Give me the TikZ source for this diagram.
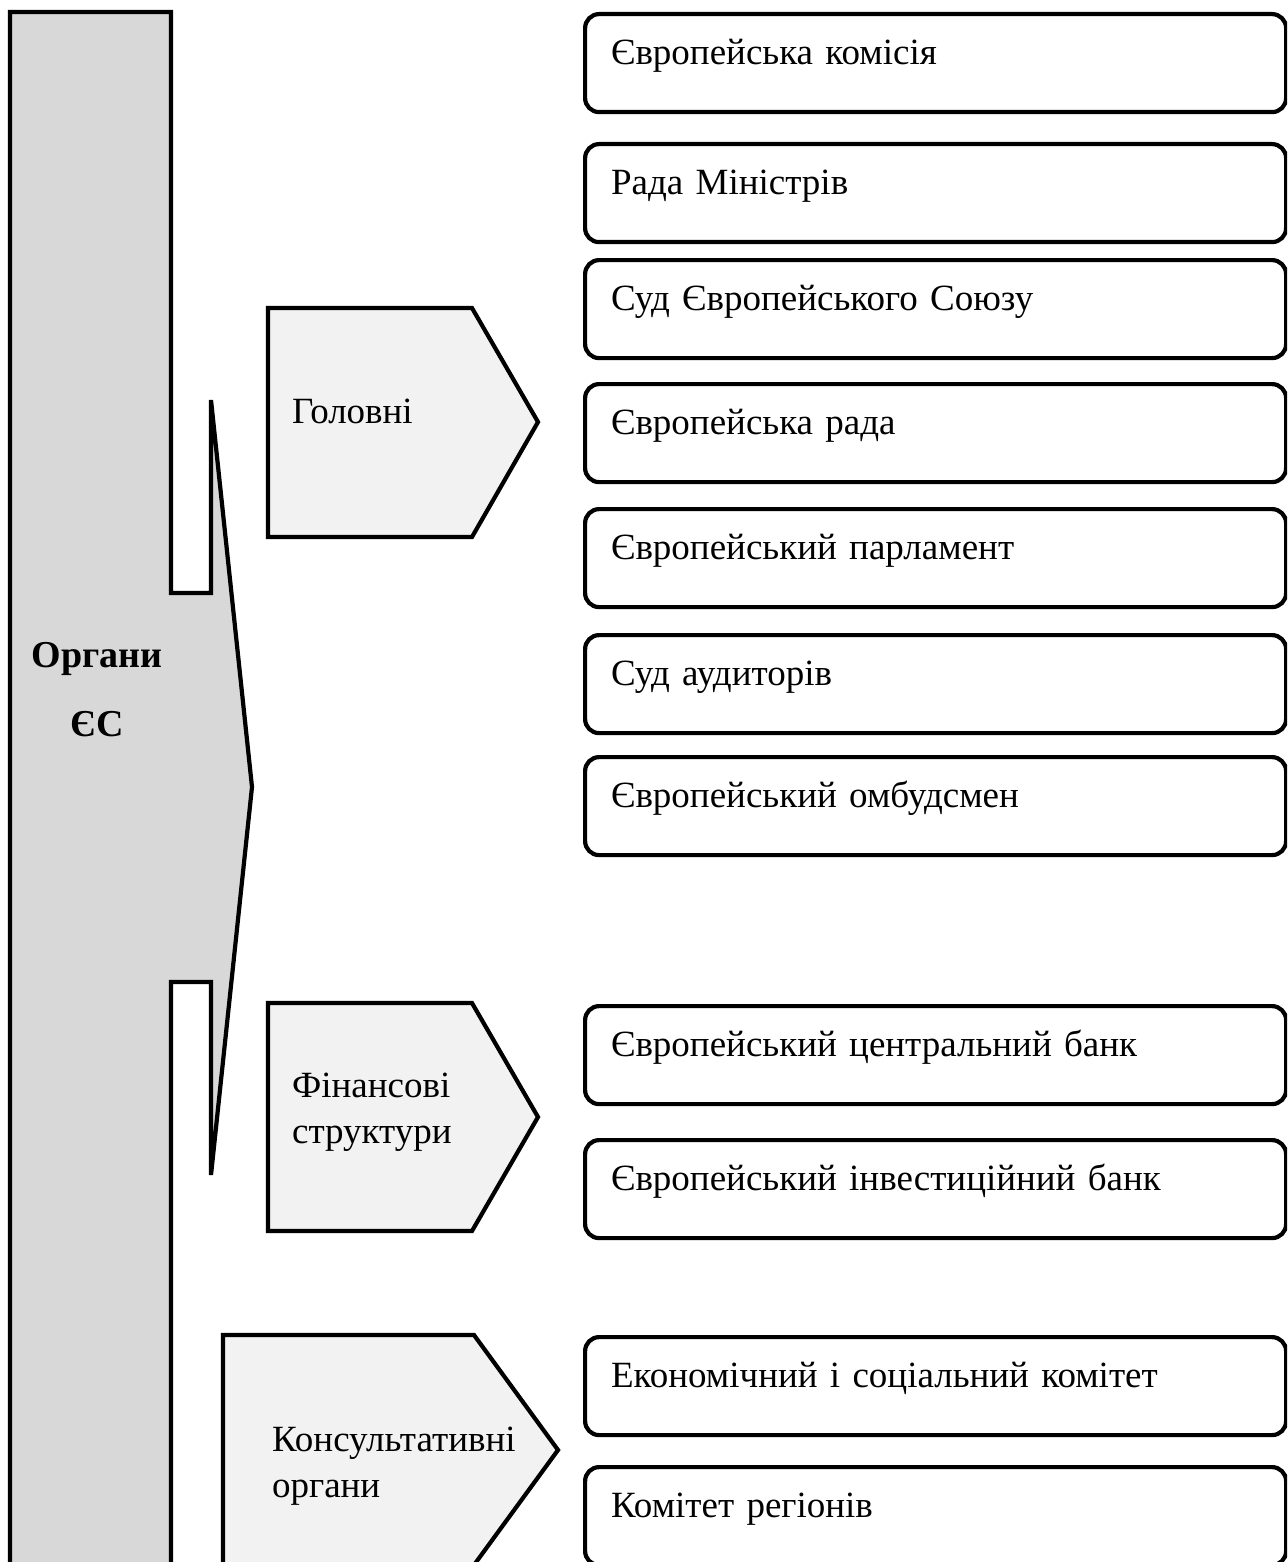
\documentclass[tikz,border=0pt]{standalone}
\usepackage{fontspec}
\setmainfont{Liberation Serif}
\usepackage{tikz}
\definecolor{orgfill}{HTML}{D8D8D8}
\definecolor{groupfill}{HTML}{F2F2F2}

\begin{document}
\begin{tikzpicture}[x=1pt,y=-1pt,line width=4.2pt,
    item/.style={draw,rounded corners=14pt,anchor=north west,
      text width=649pt,align=left,inner xsep=26pt,inner ysep=0pt,
      text height=50pt,text depth=48pt,font=\fontsize{37}{45}\selectfont},
    group/.style={draw,fill=groupfill,line join=miter},
    grouptext/.style={anchor=base west,align=left,inner sep=0pt,
      font=\fontsize{37}{46}\selectfont},
    orgtext/.style={anchor=base,inner sep=0pt,font=\fontsize{38}{46}\selectfont\bfseries}]

    %------------------
    % рамка
    %------------------
    \path[use as bounding box,clip] (0,0) rectangle (1287,1562);

    %------------------
    % Органи ЄС
    %------------------
    \draw[fill=orgfill,line join=miter]
      (10,12) -- (171,12) -- (171,593) -- (211,593) -- (211,400)
      -- (252,787) -- (211,1175) -- (211,982) -- (171,982)
      -- (171,1590) -- (10,1590) -- cycle;
    \node[orgtext] (organy) at (97,667) {Органи};
    \node[orgtext] (yes) at (97,736) {ЄС};

    %------------------
    % групи
    %------------------
    \draw[group] (268,308) -- (472,308) -- (538,422) -- (472,537) -- (268,537) -- cycle;
    \node[grouptext] (holovni) at (290,423) {Головні};

    % base -- останній рядок
    \draw[group] (268,1003) -- (472,1003) -- (538,1117) -- (472,1231) -- (268,1231) -- cycle;
    \node[grouptext] (finansovi) at (290,1143) {Фінансові\\структури};

    \draw[group] (223,1335) -- (474,1335) -- (558,1450) -- (474,1565) -- (223,1565) -- cycle;
    \node[grouptext] (konsult) at (270,1497) {Консультативні\\органи};

    %------------------
    % органи праворуч
    %------------------
    \foreach \y/\name/\txt in {
        12/komisiia/Європейська комісія,
        142/rada/Рада Міністрів,
        258/sud/Суд Європейського Союзу,
        382/yevrorada/Європейська рада,
        507/parlament/Європейський парламент,
        633/audytory/Суд аудиторів,
        755/ombudsmen/Європейський омбудсмен,
        1004/tsentrbank/Європейський центральний банк,
        1138/investbank/Європейський інвестиційний банк,
        1335/ekonkomitet/Економічний і соціальний комітет,
        1465/rehiony/Комітет регіонів}
      \node[item] (\name) at (583,\y) {\txt};
\end{tikzpicture}
\end{document}
